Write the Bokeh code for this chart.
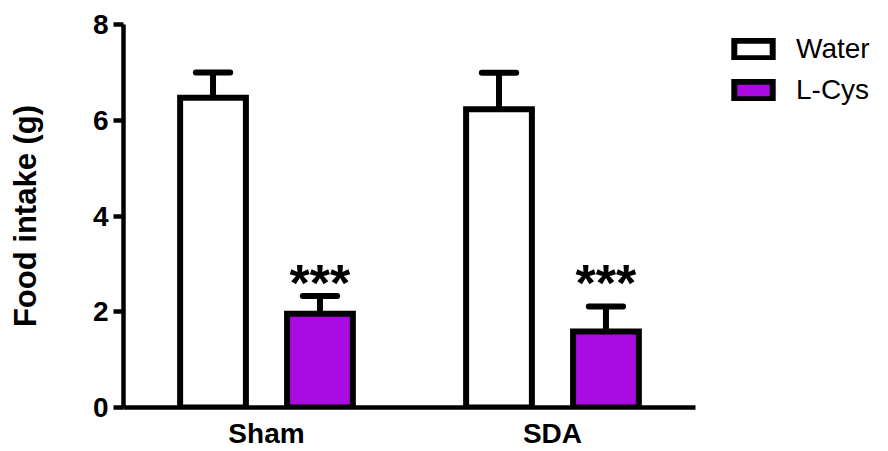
from bokeh.plotting import figure
from bokeh.models import Legend, LegendItem, ColumnDataSource, Range1d, FixedTicker
from bokeh.core.properties import value
from bokeh.embed import file_html
from bokeh.resources import INLINE

# ---- data ----
groups = ["Sham", "SDA"]
series = ["Water", "L-Cys"]
water_mean = [6.47, 6.23]
water_sem = [0.53, 0.76]
lcys_mean = [1.96, 1.59]
lcys_sem = [0.37, 0.52]
significance = ["***", "***"]
star_level = 2.6
y_ticks = [0, 2, 4, 6, 8]

# ---- styling ----
FONT = "Liberation Sans"
PURPLE = "#A90BE0"
group_pos = [1, 2]
offset = 0.187
bar_w = 0.23
cap_half = 0.06
LW = 6

water_x = [g - offset for g in group_pos]
lcys_x = [g + offset for g in group_pos]

p = figure(width=872, height=451, output_backend="svg", toolbar_location=None,
           x_range=Range1d(0.5, 3.119), y_range=Range1d(0, 8),
           min_border_left=123, min_border_right=0, min_border_top=24,
           min_border_bottom=44)
p.grid.visible = False
p.outline_line_color = None
p.background_fill_color = "white"
p.border_fill_color = "white"

def draw(xs, means, sems, fill):
    tops = [m + s for m, s in zip(means, sems)]
    src = ColumnDataSource(dict(x=xs, mean=means, top=tops,
                                cl=[x - cap_half for x in xs],
                                cr=[x + cap_half for x in xs]))
    p.segment(x0="x", y0="mean", x1="x", y1="top", source=src,
              line_color="black", line_width=LW)
    p.segment(x0="cl", y0="top", x1="cr", y1="top", source=src,
              line_color="black", line_width=LW, line_cap="round")
    r = p.vbar(x="x", top="mean", bottom=0, width=bar_w, source=src,
               fill_color=fill, line_color="black", line_width=LW,
               line_join="miter")
    return r

r_water = draw(water_x, water_mean, water_sem, "white")
r_lcys = draw(lcys_x, lcys_mean, lcys_sem, PURPLE)

p.text(x=lcys_x, y=[star_level] * len(lcys_x), text=significance,
       text_font=value(FONT), text_font_style="bold", text_font_size="52px",
       text_align="center", text_baseline="alphabetic", text_color="black")

# x axis
xa = p.xaxis[0]
xa.ticker = FixedTicker(ticks=group_pos)
xa.major_label_overrides = {g: name for g, name in zip(group_pos, groups)}
xa.bounds = (0.5, 2.5)
xa.major_tick_line_color = None
xa.minor_tick_line_color = None
xa.axis_line_width = 4.5
xa.axis_line_color = "black"
xa.major_label_text_font = FONT
xa.major_label_text_font_style = "bold"
xa.major_label_text_font_size = "28px"
xa.major_label_text_color = "black"
xa.major_label_standoff = 4

# y axis
ya = p.yaxis[0]
ya.ticker = FixedTicker(ticks=y_ticks)
ya.bounds = (0, 8)
ya.major_tick_out = 10
ya.major_tick_in = 0
ya.major_tick_line_width = 4.5
ya.major_tick_line_color = "black"
ya.minor_tick_line_color = None
ya.axis_line_width = 4.5
ya.axis_line_color = "black"
ya.major_label_text_font = FONT
ya.major_label_text_font_style = "bold"
ya.major_label_text_font_size = "28px"
ya.major_label_text_color = "black"
ya.major_label_standoff = 5
ya.axis_label = "Food intake (g)"
ya.axis_label_text_font = FONT
ya.axis_label_text_font_style = "bold"
ya.axis_label_text_font_size = "31px"
ya.axis_label_text_color = "black"
ya.axis_label_standoff = 47

legend = Legend(items=[LegendItem(label=series[0], renderers=[r_water]),
                       LegendItem(label=series[1], renderers=[r_lcys])],
                location=(606, 301), glyph_width=48, glyph_height=22,
                label_text_font=FONT, label_text_font_size="28px",
                label_text_color="black", label_standoff=19, spacing=9,
                padding=0, margin=0, border_line_color=None,
                background_fill_alpha=0)
p.add_layout(legend)

open("out.html", "w").write(file_html(p, INLINE))
